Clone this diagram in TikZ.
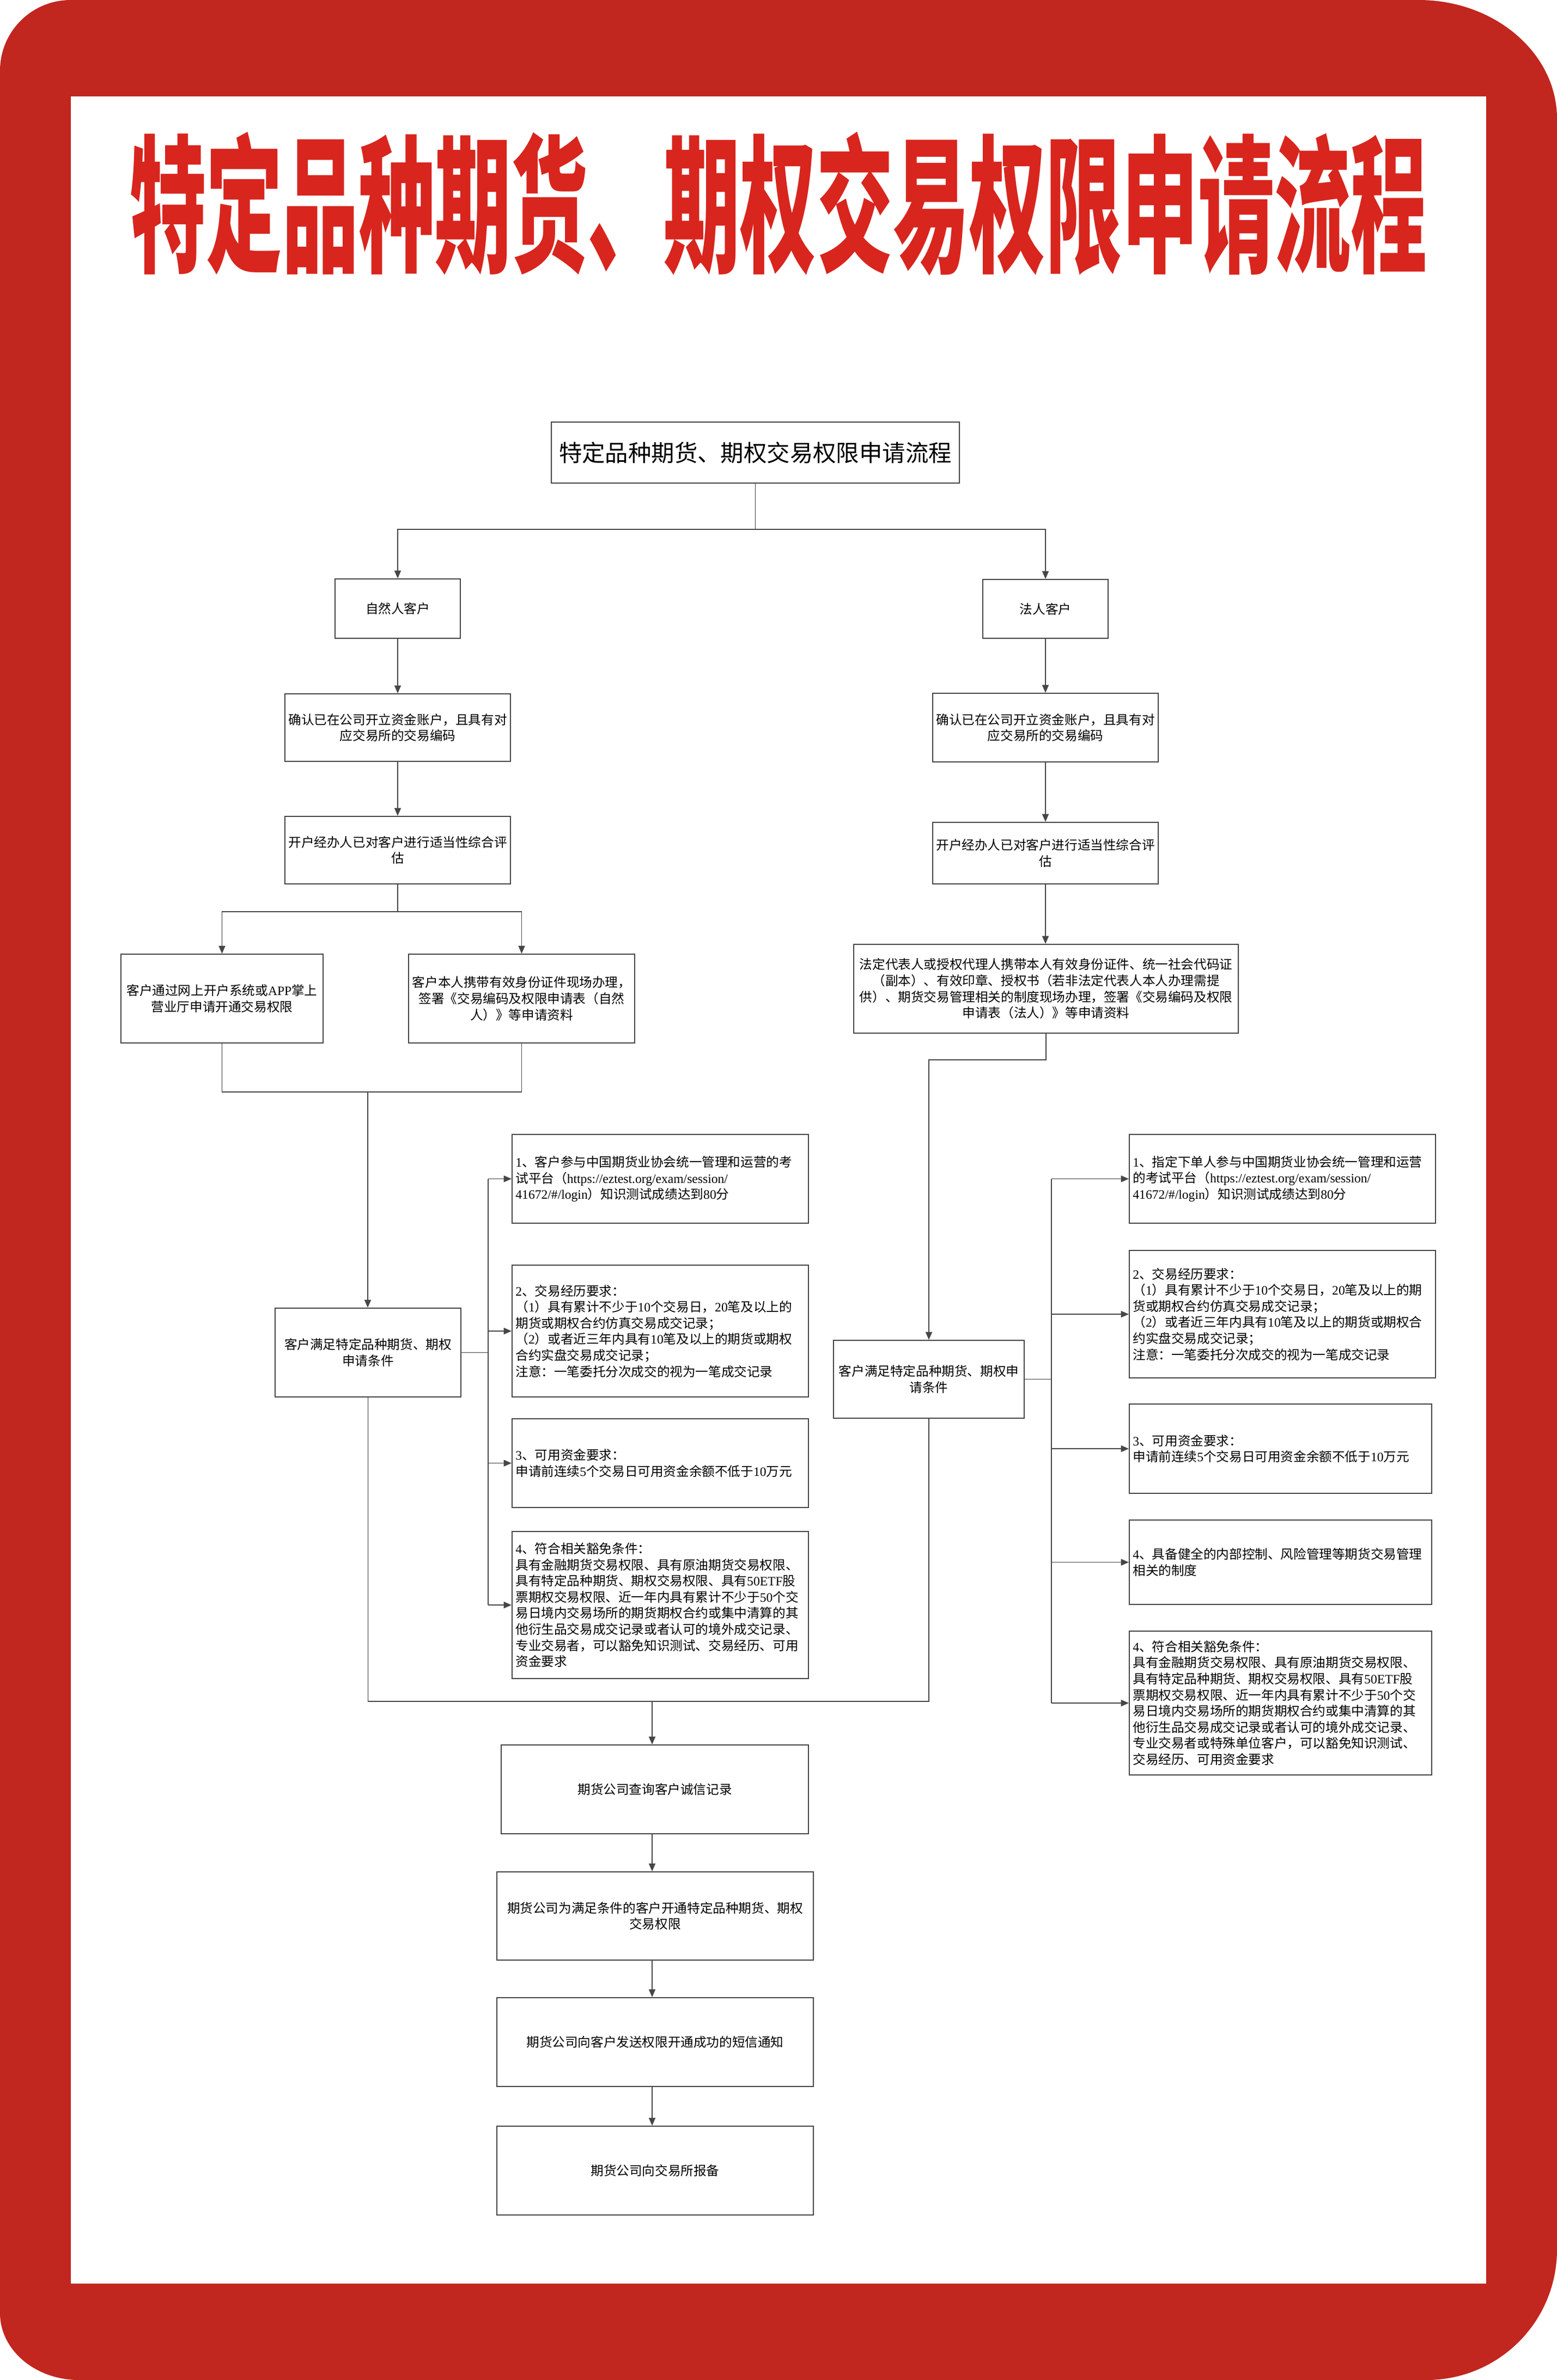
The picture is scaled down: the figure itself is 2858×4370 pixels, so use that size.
\documentclass[tikz,border=0pt]{standalone}
\usepackage{fontspec}
\usepackage{graphicx}
\setmainfont{Noto Sans CJK SC}
\newfontfamily\ltnfont{Liberation Serif}
\newcommand\ltn[1]{{\ltnfont #1}}
\usetikzlibrary{arrows.meta}
\definecolor{framered}{RGB}{193,38,31}
\definecolor{titlered}{RGB}{216,37,30}
\definecolor{linegray}{RGB}{70,70,70}
\tikzset{
  boxbase/.style={draw=linegray, line width=0.5pt, fill=white, inner ysep=0pt,
    font=\fontsize{5.9pt}{7.4pt}\selectfont},
  leftbox/.style={boxbase, align=left},
  midbox/.style={boxbase, align=center},
  titlebox/.style={midbox, font=\fontsize{10.6pt}{13pt}\selectfont},
  conn/.style={draw=linegray, line width=0.45pt},
  arr/.style={conn, -{Triangle[length=3.6pt,width=3pt]}},
}
% style, pad, name, x1, y1, x2, y2, text  (pixel coordinates, y downward)
\newcommand\mkbox[8]{%
  \pgfmathsetmacro\mybw{(#6-#4)*0.25}%
  \pgfmathsetmacro\mybh{(#7-#5)*0.25}%
  \pgfmathsetmacro\mytw{(#6-#4)*0.25-2*#2}%
  \node[#1, inner xsep=#2pt, minimum width=\mybw pt, minimum height=\mybh pt,
        text width=\mytw pt] (#3) at ({(#4+#6)/2},{(#5+#7)/2}) {#8};%
}
\begin{document}
\begin{tikzpicture}[x=0.25pt,y=-0.25pt]
\useasboundingbox (0,0) rectangle (2858,4370);
\fill[white] (0,0) rectangle (2858,4370);
% red frame
\fill[framered] (0,130) .. controls (0,58) and (58,0) .. (130,0)
  -- (2604,0) .. controls (2744,0) and (2858,98) .. (2858,218)
  -- (2858,4130) .. controls (2858,4263) and (2751,4370) .. (2618,4370)
  -- (145,4370) .. controls (65,4370) and (0,4315) .. (0,4247) -- cycle;
\fill[white] (130,177) rectangle (2728,4193);
% main title
\node[text=titlered, inner sep=0pt] (maintitle) at (1429,374)
  {\scalebox{0.515}[1]{\fontsize{68pt}{68pt}\selectfont\bfseries 特定品种期货、期权交易权限申请流程}};

% title box
\mkbox{titlebox}{0.5}{T0}{1012}{775}{1761}{887}{特定品种期货、期权交易权限申请流程}

% left column
\mkbox{midbox}{0.5}{A1}{615}{1063}{845}{1172}{自然人客户}
\mkbox{midbox}{0.5}{A2}{523}{1274}{937}{1398}{确认已在公司开立资金账户，且具有对\\应交易所的交易编码}
\mkbox{midbox}{0.5}{A3}{523}{1499}{937}{1623}{开户经办人已对客户进行适当性综合评\\估}
\mkbox{midbox}{0.5}{A4L}{222}{1752}{593}{1915}{客户通过网上开户系统或\ltn{APP}掌上\\营业厅申请开通交易权限}
\mkbox{midbox}{0.5}{A4R}{750}{1752}{1165}{1915}{客户本人携带有效身份证件现场办理，\\签署《交易编码及权限申请表（自然\\人）》等申请资料}
\mkbox{midbox}{0.5}{A5}{505}{2402}{846}{2565}{客户满足特定品种期货、期权\\申请条件}
\mkbox{leftbox}{1.6}{AR1}{940}{2083}{1484}{2246}{\ltn{1}、客户参与中国期货业协会统一管理和运营的考\\试平台（\ltn{https://eztest.org/exam/session/}\\\ltn{41672/\#/login}）知识测试成绩达到\ltn{80}分}
\mkbox{leftbox}{1.6}{AR2}{940}{2323}{1484}{2565}{\ltn{2}、交易经历要求：\\（\ltn{1}）具有累计不少于\ltn{10}个交易日，\ltn{20}笔及以上的\\期货或期权合约仿真交易成交记录；\\（\ltn{2}）或者近三年内具有\ltn{10}笔及以上的期货或期权\\合约实盘交易成交记录；\\注意：一笔委托分次成交的视为一笔成交记录}
\mkbox{leftbox}{1.6}{AR3}{940}{2605}{1484}{2768}{\ltn{3}、可用资金要求：\\申请前连续\ltn{5}个交易日可用资金余额不低于\ltn{10}万元}
\mkbox{leftbox}{1.6}{AR4}{940}{2812}{1484}{3082}{\ltn{4}、符合相关豁免条件：\\具有金融期货交易权限、具有原油期货交易权限、\\具有特定品种期货、期权交易权限、具有\ltn{50ETF}股\\票期权交易权限、近一年内具有累计不少于\ltn{50}个交\\易日境内交易场所的期货期权合约或集中清算的其\\他衍生品交易成交记录或者认可的境外成交记录、\\专业交易者，可以豁免知识测试、交易经历、可用\\资金要求}

% right column
\mkbox{midbox}{0.5}{R1}{1804}{1064}{2034}{1172}{法人客户}
\mkbox{midbox}{0.5}{R2}{1712}{1273}{2126}{1399}{确认已在公司开立资金账户，且具有对\\应交易所的交易编码}
\mkbox{midbox}{0.5}{R3}{1712}{1510}{2126}{1623}{开户经办人已对客户进行适当性综合评\\估}
\mkbox{midbox}{0.5}{R4}{1567}{1734}{2273}{1897}{法定代表人或授权代理人携带本人有效身份证件、统一社会代码证\\（副本）、有效印章、授权书（若非法定代表人本人办理需提\\供）、期货交易管理相关的制度现场办理，签署《交易编码及权限\\申请表（法人）》等申请资料}
\mkbox{midbox}{0.5}{R5}{1530}{2461}{1880}{2604}{客户满足特定品种期货、期权申\\请条件}
\mkbox{leftbox}{1.6}{RR1}{2073}{2083}{2635}{2246}{\ltn{1}、指定下单人参与中国期货业协会统一管理和运营\\的考试平台（\ltn{https://eztest.org/exam/session/}\\\ltn{41672/\#/login}）知识测试成绩达到\ltn{80}分}
\mkbox{leftbox}{1.6}{RR2}{2073}{2296}{2635}{2530}{\ltn{2}、交易经历要求：\\（\ltn{1}）具有累计不少于\ltn{10}个交易日，\ltn{20}笔及以上的期\\货或期权合约仿真交易成交记录；\\（\ltn{2}）或者近三年内具有\ltn{10}笔及以上的期货或期权合\\约实盘交易成交记录；\\注意：一笔委托分次成交的视为一笔成交记录}
\mkbox{leftbox}{1.6}{RR3}{2073}{2578}{2628}{2742}{\ltn{3}、可用资金要求：\\申请前连续\ltn{5}个交易日可用资金余额不低于\ltn{10}万元}
\mkbox{leftbox}{1.6}{RR4}{2073}{2791}{2628}{2946}{\ltn{4}、具备健全的内部控制、风险管理等期货交易管理\\相关的制度}
\mkbox{leftbox}{1.6}{RR5}{2073}{2995}{2628}{3259}{\ltn{4}、符合相关豁免条件：\\具有金融期货交易权限、具有原油期货交易权限、\\具有特定品种期货、期权交易权限、具有\ltn{50ETF}股\\票期权交易权限、近一年内具有累计不少于\ltn{50}个交\\易日境内交易场所的期货期权合约或集中清算的其\\他衍生品交易成交记录或者认可的境外成交记录、\\专业交易者或特殊单位客户，可以豁免知识测试、\\交易经历、可用资金要求}

% bottom chain
\mkbox{midbox}{0.5}{B1}{920}{3204}{1484}{3367}{期货公司查询客户诚信记录}
\mkbox{midbox}{0.5}{B2}{912}{3437}{1493}{3599}{期货公司为满足条件的客户开通特定品种期货、期权\\交易权限}
\mkbox{midbox}{0.5}{B3}{912}{3668}{1493}{3831}{期货公司向客户发送权限开通成功的短信通知}
\mkbox{midbox}{0.5}{B4}{912}{3904}{1493}{4067}{期货公司向交易所报备}

% connectors: top split
\coordinate (jtop) at (1386,972);
\draw[conn] (T0.south) -- (T0.south |- jtop);
\draw[arr] (T0.south |- jtop) -| (A1.north);
\draw[arr] (T0.south |- jtop) -| (R1.north);
% left chain
\draw[arr] (A1) -- (A2);
\draw[arr] (A2) -- (A3);
\coordinate (jbr) at (730,1674);
\draw[conn] (A3.south) -- (A3.south |- jbr);
\draw[arr] (A3.south |- jbr) -| (A4L.north);
\draw[arr] (A3.south |- jbr) -| (A4R.north);
\coordinate (jm) at (675,2005);
\draw[conn] (A4L.south) |- (jm) -| (A4R.south);
\draw[arr] (jm) -- (jm |- A5.north);
\coordinate (tL) at (896,2484);
\draw[conn] (A5.east) -- (A5.east -| tL);
\draw[conn] (tL |- AR1.west) -- (tL |- AR4.west);
\foreach \n in {AR1,AR2,AR3,AR4} \draw[arr] (tL |- \n.west) -- (\n.west);
% right chain
\draw[arr] (R1) -- (R2);
\draw[arr] (R2) -- (R3);
\draw[arr] (R3.south) -- (R3.south |- R4.north);
\coordinate (jr) at (1705,1946);
\draw[arr] (R4.south) |- (jr) -- (jr |- R5.north);
\coordinate (tR) at (1930,2533);
\draw[conn] (R5.east) -- (R5.east -| tR);
\draw[conn] (tR |- RR1.west) -- (tR |- RR5.west);
\foreach \n in {RR1,RR2,RR3,RR4,RR5} \draw[arr] (tR |- \n.west) -- (\n.west);
% merge to bottom
\coordinate (jb) at (1197,3124);
\draw[conn] (A5.south) |- (jb);
\draw[conn] (R5.south) |- (jb);
\draw[arr] (jb) -- (jb |- B1.north);
\draw[arr] (jb |- B1.south) -- (jb |- B2.north);
\draw[arr] (jb |- B2.south) -- (jb |- B3.north);
\draw[arr] (jb |- B3.south) -- (jb |- B4.north);
\end{tikzpicture}
\end{document}
